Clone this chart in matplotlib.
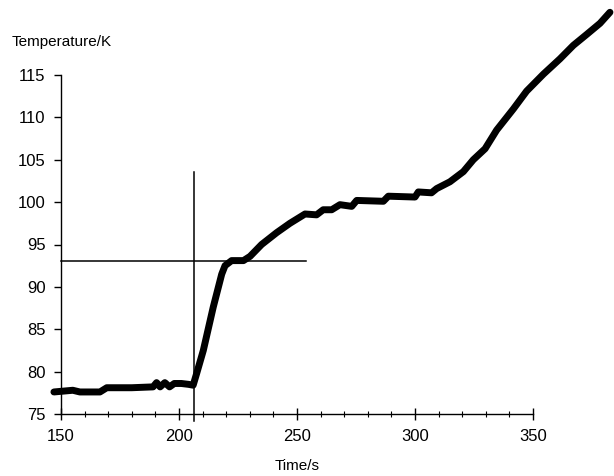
import matplotlib
matplotlib.use("Agg")
import matplotlib.pyplot as plt
from matplotlib.ticker import MultipleLocator

# Data
time_s = [147, 155, 158, 166.5, 169.4, 180, 189, 190.5, 192, 194, 196, 198, 201, 204, 206,
          207.5, 210.3, 214.5, 218.1, 219.5, 222.3, 227.3, 230.1, 235, 241.4, 247, 253.4,
          258.3, 261.1, 264.7, 268.2, 273.2, 275.3, 286.6, 288.7, 300, 301.4, 307, 309.2,
          314.8, 320.5, 324.7, 329.7, 334.6, 341.7, 347.3, 354.4, 361.4, 367.1, 372.8,
          378.4, 382.6]
temp_k = [77.6, 77.8, 77.6, 77.6, 78.1, 78.1, 78.2, 78.7, 78.2, 78.7, 78.2, 78.6, 78.6, 78.5, 78.4,
          79.8, 82.5, 87.6, 91.5, 92.5, 93.1, 93.1, 93.6, 95.0, 96.4, 97.5, 98.6,
          98.5, 99.1, 99.1, 99.7, 99.5, 100.2, 100.1, 100.7, 100.6, 101.2, 101.1, 101.6,
          102.4, 103.6, 105.0, 106.3, 108.5, 111.0, 113.1, 115.1, 116.9, 118.5, 119.8,
          121.1, 122.4]

x_ticks = [150, 200, 250, 300, 350]
y_ticks = [75, 80, 85, 90, 95, 100, 105, 110, 115]

tc_time = 206.5          # vertical marker
tc_temp = 93.0           # horizontal marker
vline_range = (74.2, 103.6)
hline_range = (150, 254)

plt.rcParams['font.family'] = ['Liberation Sans', 'DejaVu Sans']

fig = plt.figure(figsize=(6.14, 4.76), dpi=100)
ax = fig.add_axes([61/614, 1 - 414/476, (533 - 61)/614, (414 - 75)/476])

ax.set_xlim(150, 350)
ax.set_ylim(75, 115)

ax.plot(time_s, temp_k, color='black', lw=5, solid_capstyle='round',
        solid_joinstyle='round', clip_on=False, zorder=3)

ax.plot([tc_time, tc_time], list(vline_range), color='black', lw=1.1, clip_on=False)
ax.plot(list(hline_range), [tc_temp, tc_temp], color='black', lw=1.1, clip_on=False)

for s in ['top', 'right']:
    ax.spines[s].set_visible(False)
for s in ['left', 'bottom']:
    ax.spines[s].set_linewidth(1.0)

ax.set_xticks(x_ticks)
ax.set_yticks(y_ticks)
ax.xaxis.set_minor_locator(MultipleLocator(10))
ax.tick_params(axis='x', which='major', direction='inout', length=9, width=1, labelsize=12, pad=6)
ax.tick_params(axis='x', which='minor', direction='inout', length=4, width=0.8)
ax.tick_params(axis='y', which='major', direction='out', length=5, width=1, labelsize=12, pad=6)

fig.text(297/614, 1 - 466/476, 'Time/s', ha='center', va='center', fontsize=11)
fig.text(12/614, 1 - 42/476, 'Temperature/K', ha='left', va='center', fontsize=11)

fig.savefig('out.png', dpi=100)
